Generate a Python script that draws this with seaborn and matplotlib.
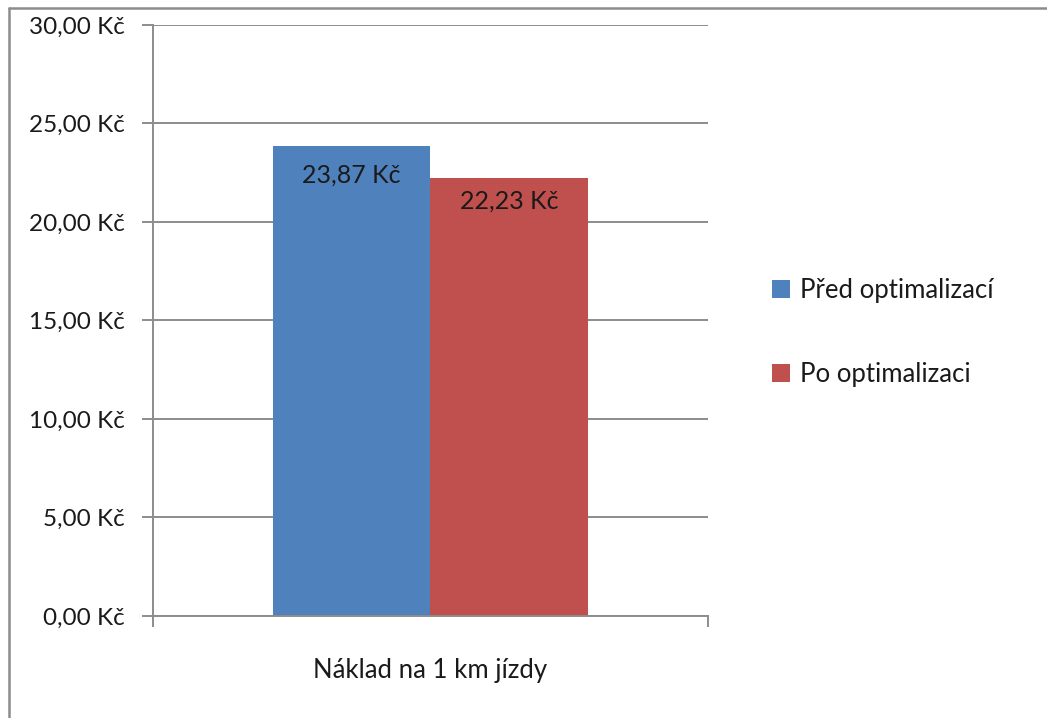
import matplotlib
matplotlib.use("Agg")
import matplotlib.pyplot as plt
import seaborn as sns
import pandas as pd
from matplotlib.lines import Line2D
from matplotlib.ticker import FuncFormatter

# Data
kategorie = ["Náklad na 1 km jízdy"]
serie = ["Před optimalizací", "Po optimalizaci"]
hodnoty = [23.87, 22.23]
barvy = ["#4F81BD", "#C0504D"]

df = pd.DataFrame({
    "Kategorie": kategorie * len(serie),
    "Serie": serie,
    "Hodnota": hodnoty,
})

sns.set_style("white")
plt.rcParams['font.family'] = ['Lato', 'DejaVu Sans']

fig = plt.figure(figsize=(10.47, 7.18), dpi=100)
ax = fig.add_axes([0.1461, 0.1421, 0.5301, 0.8231])

sns.barplot(data=df, x="Kategorie", y="Hodnota", hue="Serie", palette=barvy,
            width=0.568, saturation=1, ax=ax, legend=True, linewidth=0, edgecolor="none")

def kc(v, pos=None):
    return f"{v:.2f}".replace(".", ",") + " Kč"

ax.set_ylim(0, 30)
ax.set_xlim(-0.5, 0.5)
ax.set_yticks([0, 5, 10, 15, 20, 25, 30])
ax.yaxis.set_major_formatter(FuncFormatter(kc))
ax.yaxis.grid(True, color="#8c8c8c", linewidth=1.4)
ax.set_axisbelow(True)
ax.set_xlabel("")
ax.set_ylabel("")

for s in ["top", "right"]:
    ax.spines[s].set_visible(False)
for s in ["left", "bottom"]:
    ax.spines[s].set_color("#8c8c8c")
    ax.spines[s].set_linewidth(1.4)

ax.tick_params(axis="y", left=True, length=8, width=1.4, color="#8c8c8c", labelsize=17.5,
               pad=12, labelcolor="#1a1a1a")
ax.tick_params(axis="x", which="major", bottom=False, length=0, labelsize=18.5, pad=30,
               labelcolor="#1a1a1a")
ax.set_xticks([-0.5, 0.5], minor=True)
ax.tick_params(axis="x", which="minor", bottom=True, length=8, width=1.4, color="#8c8c8c")

# popisky hodnot
for cont, off in zip(ax.containers, [29.5, 25]):
    ax.bar_label(cont, labels=[kc(v) for v in cont.datavalues], padding=-off,
                 fontsize=18, color="#1a1a1a")

leg = ax.legend(loc="center left", bbox_to_anchor=(1.096, 0.479), frameon=False,
                fontsize=18.5, handlelength=0.7, handleheight=0.7, handletextpad=0.4,
                labelspacing=2.3, borderaxespad=0)
for t in leg.get_texts():
    t.set_color("#1a1a1a")

# ramecek grafu
fig.add_artist(Line2D([9 / 1047, 9 / 1047], [0, 1 - 8 / 718], color="#8c8c8c", linewidth=1.8,
                      transform=fig.transFigure))
fig.add_artist(Line2D([9 / 1047, 1], [1 - 8 / 718, 1 - 8 / 718], color="#8c8c8c", linewidth=1.8,
                      transform=fig.transFigure))

fig.savefig("out.png", dpi=100)
